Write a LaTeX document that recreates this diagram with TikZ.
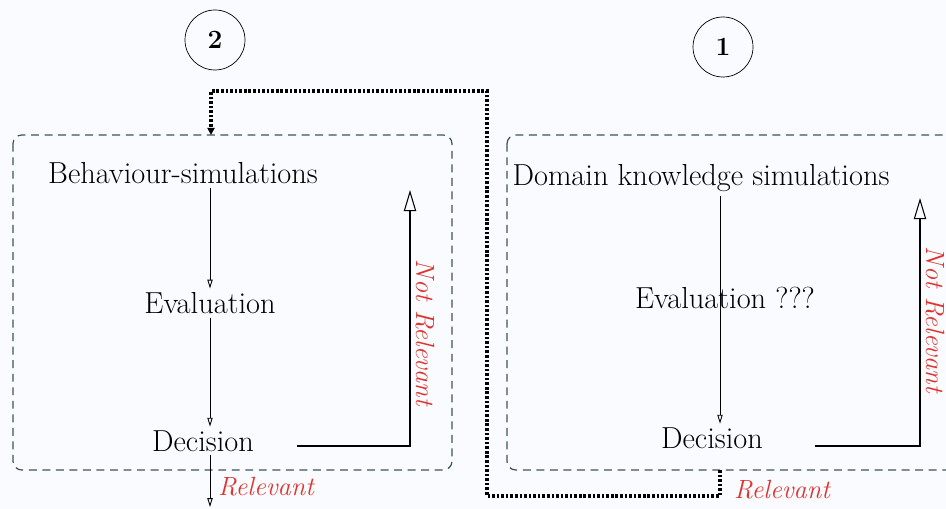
\documentclass[tikz,border=0pt]{standalone}
\usepackage{tikz}
\usetikzlibrary{positioning, arrows.meta}
\definecolor{boxline}{RGB}{58,84,94}
\definecolor{labelred}{RGB}{222,52,48}
\definecolor{paper}{RGB}{250,251,254}
\tikzset{
x=0.02cm, y=-0.02cm, % one unit is one pixel of the sketch
txt/.style={inner sep=2pt, font=\fontsize{17.3}{20}\selectfont}, % sets the look of the step names
phase/.style={circle, draw, minimum size=1.2cm, font=\fontsize{15}{17}\selectfont\bfseries}, % the numbered circles
group/.style={draw=boxline, dash pattern=on 4.5pt off 3.2pt, rounded corners=5pt, line width=0.7pt}, % the dashed boxes
flow/.style={-{Triangle[open, length=5pt, width=3pt]}, line width=0.5pt}, % small open tips
back/.style={-{Triangle[open, length=12pt, width=7pt]}, line width=0.6pt}, % the big tips of the return lines
feedback/.style={-{Triangle[length=4pt, width=4pt]}, line width=2.3pt, dash pattern=on 1.5pt off 1.1pt}, % the thick dotted loop
answer/.style={text=labelred, font=\fontsize{15}{17}\selectfont\itshape}, % red labels
}
\begin{document}
\begin{tikzpicture}
        \fill[paper] (0,0) rectangle (946,509);
        \useasboundingbox (0,0) rectangle (946,509);
        \clip (0,0) rectangle (946,509);

        % the two boxes
        \draw[group] (13,135) rectangle (452,470);
        \draw[group] (507,135) rectangle (975,470);

        \node[phase] (two) at (215,40) {2};
        \node[phase] (one) at (723,47) {1};

        % left box
        \node[txt] (beh) at (183,173) {Behaviour-simulations};
        \node[txt] (eval) at (210,303) {Evaluation};
        \node[txt] (dec) at (203,441) {Decision};
        \coordinate (decout) at (297,446);
        \coordinate (nrtop) at (410,190);
        \coordinate (relend) at (210,507);
        \node[answer, rotate=-90] (nr) at (425,333) {Not Relevant};

        % right box
        \node[txt] (dk) at (701,178) {Domain knowledge simulations};
        \node[txt] (evalq) at (725,298) {Evaluation ???};
        \node[txt] (decq) at (712,438) {Decision};
        \coordinate (fbstart) at (720,470);
        \coordinate (decqout) at (815,446);
        \coordinate (nrqtop) at (920,198);
        \coordinate (boxtop) at (211,135);
        \node[answer, rotate=-90] (nrq) at (935,320) {Not Relevant};
        \node[answer] (relq) at (782,490) {Relevant};

        \draw[flow] (beh.south -| eval.north) -- (eval.north);
        \draw[flow] (eval.south) -- (dec.north -| eval.south);
        \draw[flow] (dec.south -| eval.south) -- node[answer, right=1pt, pos=0.6] {Relevant} (relend);
        \draw[back] (decout) -| (nrtop);

        \draw[flow] (dk.south -| fbstart) -- (decq.north -| fbstart);
        \draw[back] (decqout) -| (nrqtop);

        % loop back into the left box
        \draw[feedback] (fbstart) -- ++(0,26) -| (487,91) -| (boxtop);
\end{tikzpicture}
\end{document}
